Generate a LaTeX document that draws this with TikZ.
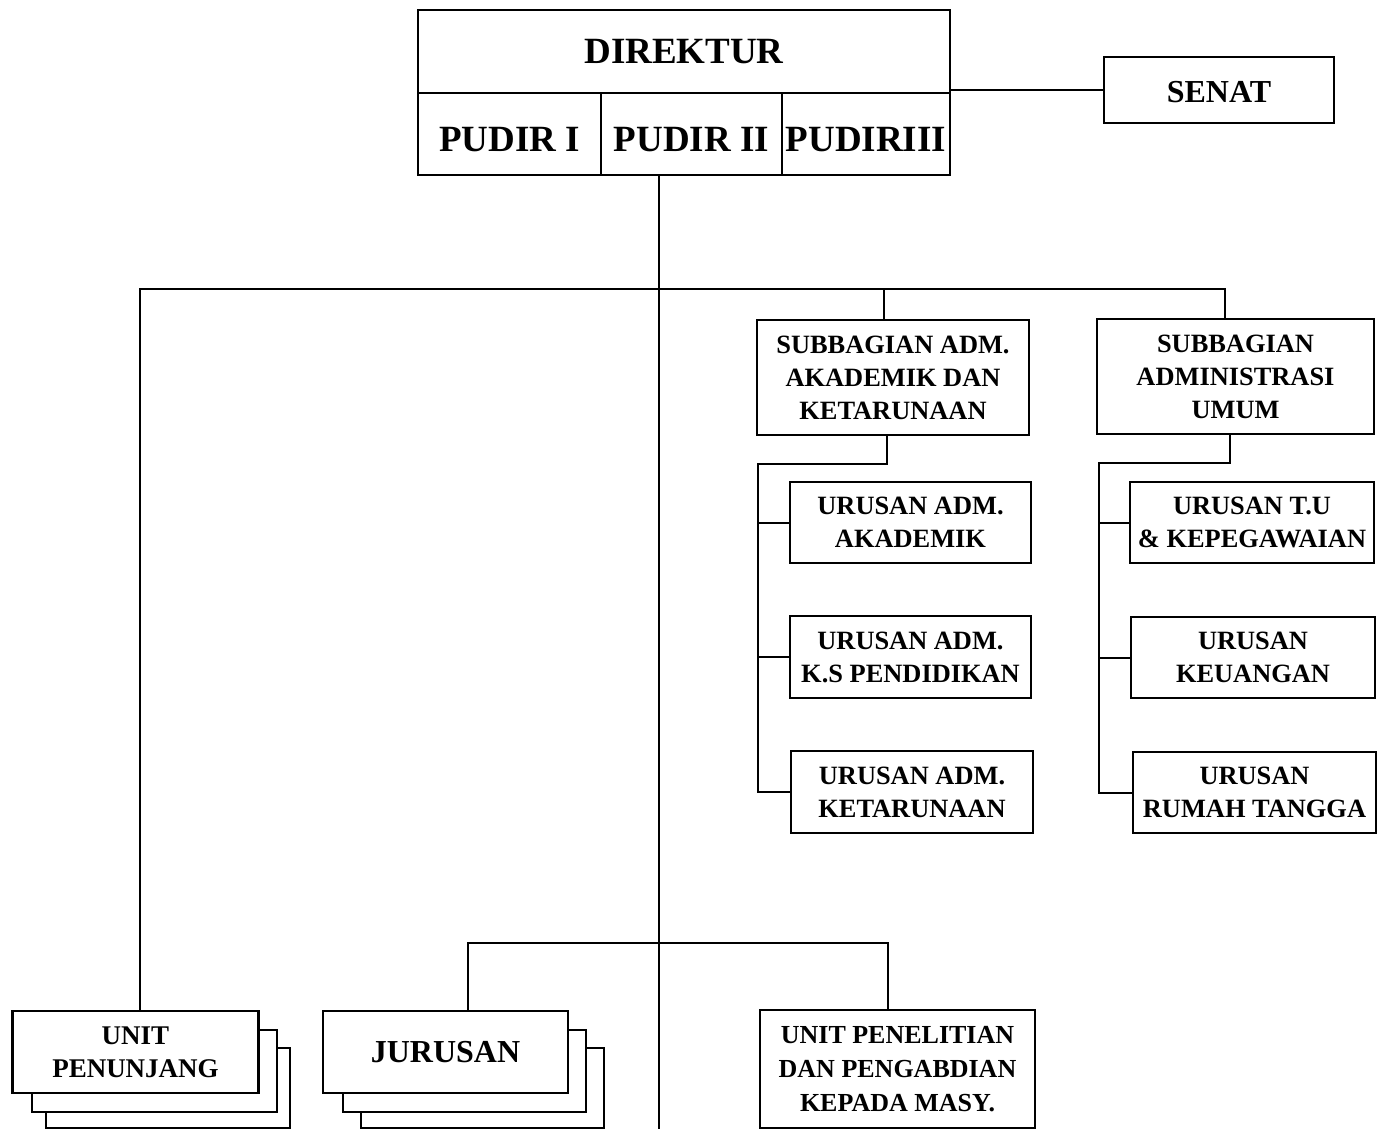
\documentclass[tikz,border=0pt]{standalone}
\usepackage{fontspec}
\setmainfont{Liberation Serif}
\usetikzlibrary{calc,positioning}

\tikzset{
  box/.style={draw, line width=1.1pt, fill=white, align=center, inner sep=0pt,
    font=\bfseries\fontsize{13.2}{16.5}\selectfont},
  headbox/.style={box, font=\bfseries\fontsize{18.5}{22}\selectfont},
  pudbox/.style={headbox, minimum height=41pt, text height=17pt, text depth=0pt},
  backbox/.style={draw, line width=1.1pt, fill=white},
  link/.style={line width=1pt},
}

\begin{document}
\begin{tikzpicture}[x=0.5pt,y=-0.5pt]
\useasboundingbox (0,0) rectangle (1381,1129);

% direktur dan pudir
\node[headbox, minimum width=266pt, minimum height=41.5pt] (dir) at (684,51.5) {DIREKTUR};
\node[pudbox, minimum width=91.5pt] (pud1) at (509.5,134) {PUDIR I};
\node[pudbox, minimum width=90.5pt] (pud2) at (691.5,134) {PUDIR II};
\node[pudbox, minimum width=84pt] (pud3) at (866,134) {PUDIRIII};
\node[box, font=\bfseries\fontsize{16}{19}\selectfont, minimum width=115pt, minimum height=33pt, text height=13pt, text depth=0pt] (senat) at (1219,90) {SENAT};

% subbagian
\node[box, minimum width=136pt, minimum height=57.5pt] (sbA) at (893,377.5) {SUBBAGIAN ADM.\\AKADEMIK DAN\\KETARUNAAN};
\node[box, minimum width=138.5pt, minimum height=57.5pt] (sbB) at (1235.5,376.5) {SUBBAGIAN\\ADMINISTRASI\\UMUM};

% urusan
\node[box, minimum width=120.5pt, minimum height=40.5pt] (uA1) at (910.5,522.5) {URUSAN ADM.\\AKADEMIK};
\node[box, minimum width=120.5pt, minimum height=41pt] (uA2) at (910.5,657) {URUSAN ADM.\\K.S PENDIDIKAN};
\node[box, minimum width=121pt, minimum height=41pt] (uA3) at (912,792) {URUSAN ADM.\\KETARUNAAN};
\node[box, minimum width=122pt, minimum height=40.5pt] (uB1) at (1252,522.5) {URUSAN T.U\\\& KEPEGAWAIAN};
\node[box, minimum width=122pt, minimum height=40.5pt] (uB2) at (1253,657.5) {URUSAN\\KEUANGAN};
\node[box, minimum width=121.5pt, minimum height=40.5pt] (uB3) at (1254.5,792.5) {URUSAN\\RUMAH TANGGA};

% unit penunjang dan jurusan (bertumpuk)
\draw[backbox] (46,1048) rectangle (290,1128);
\draw[backbox] (32,1030) rectangle (277,1112);
\node[box, font=\bfseries\fontsize{13.5}{16.5}\selectfont, minimum width=123pt, minimum height=41pt] (unit) at (135.5,1052) {UNIT\\PENUNJANG};
\draw[backbox] (361,1048) rectangle (604,1128);
\draw[backbox] (343,1030) rectangle (586,1112);
\node[box, font=\bfseries\fontsize{16}{19}\selectfont, minimum width=122.5pt, minimum height=41pt] (jur) at (445.5,1052) {JURUSAN};
\node[box, font=\bfseries\fontsize{13}{17}\selectfont, minimum width=137.5pt, minimum height=59pt] (pen) at (897.5,1069) {UNIT PENELITIAN\\DAN PENGABDIAN\\KEPADA MASY.};

% garis
\coordinate (stem) at (659,175);
\coordinate (stemend) at (659,1129);
\coordinate (bus) at (659,289);
\coordinate (busB) at (659,943);
\coordinate (spA) at (758,464);
\coordinate (spB) at (1099,463);

\draw[link] (senat.west) -- (senat.west -| dir.south east);
\draw[link] (stem) -- (stemend);
\draw[link] ($(unit.north)+(4.5,0)$) |- (bus) -| ($(sbB.north)+(-10.5,0)$);
\draw[link] ($(sbA.north)+(-9,0)$) -- (bus -| {$(sbA.north)+(-9,0)$});
\draw[link] ($(jur.north)+(22.5,0)$) |- (busB) -| ($(pen.north)+(-9.5,0)$);

\draw[link] ($(sbA.south)+(-6,0)$) |- (spA) |- (uA3.west);
\draw[link] (spA |- uA1.west) -- (uA1.west);
\draw[link] (spA |- uA2.west) -- (uA2.west);
\draw[link] ($(sbB.south)+(-5.5,0)$) |- (spB) |- (uB3.west);
\draw[link] (spB |- uB1.west) -- (uB1.west);
\draw[link] (spB |- uB2.west) -- (uB2.west);
\end{tikzpicture}
\end{document}
